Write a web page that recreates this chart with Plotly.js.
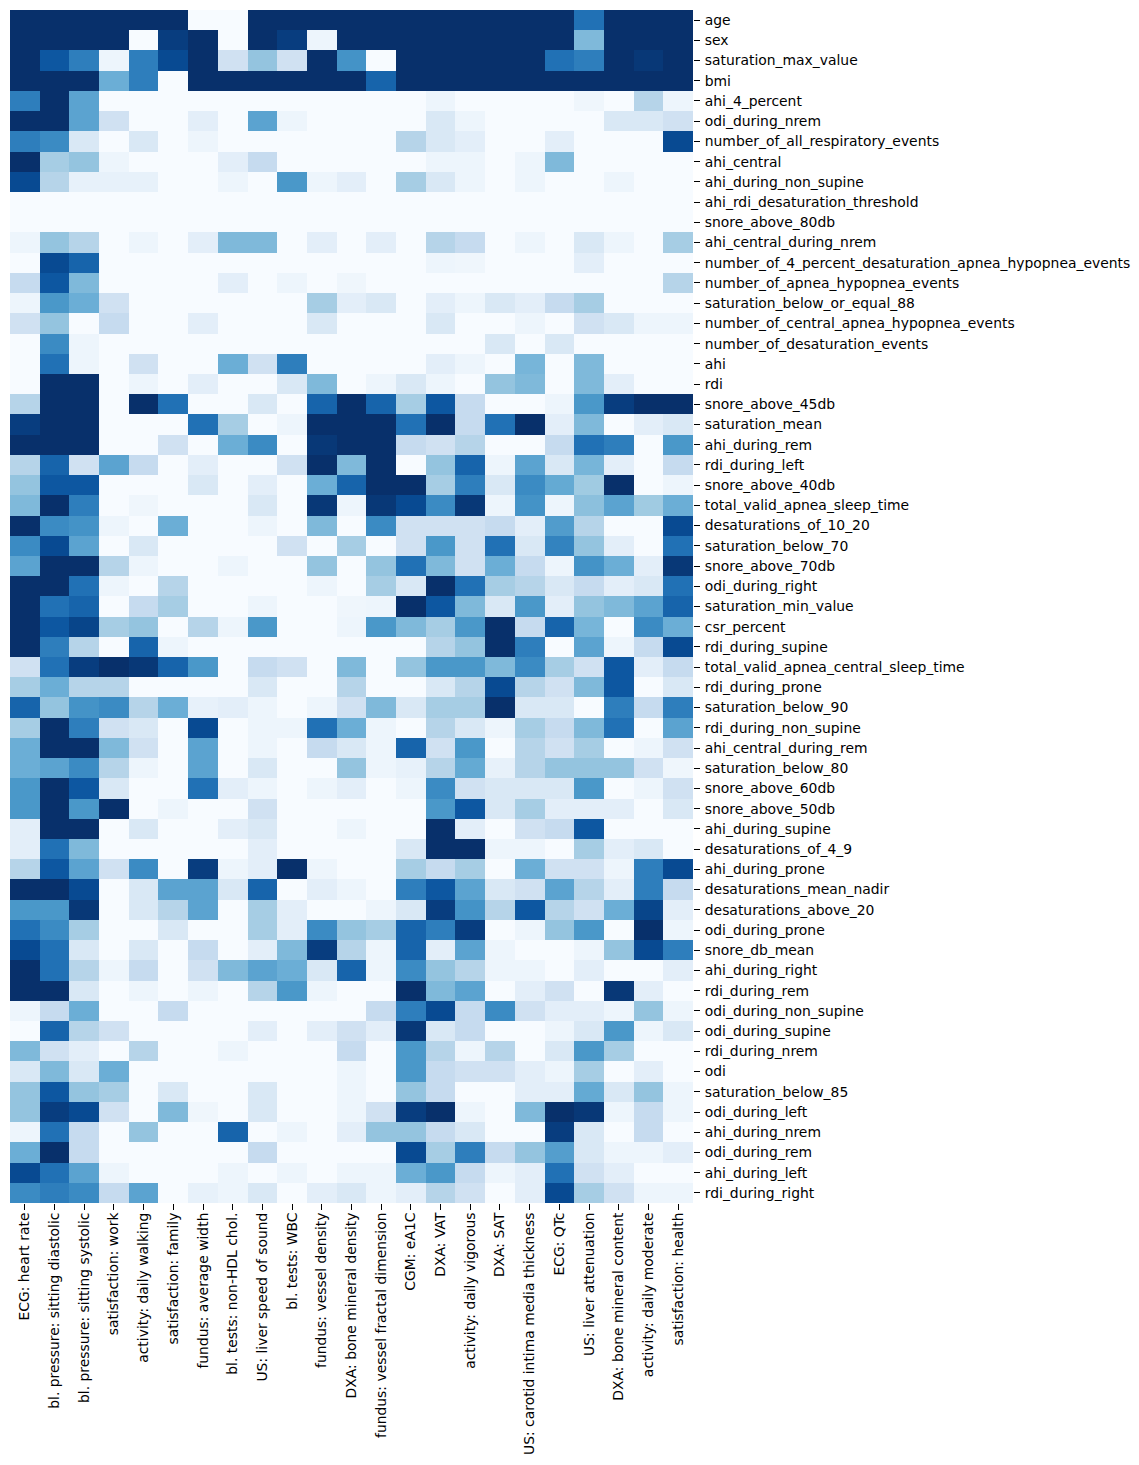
<!DOCTYPE html>
<html><head><meta charset="utf-8">
<script src="https://cdn.plot.ly/plotly-3.0.1.min.js"></script>
<style>html,body{margin:0;padding:0;background:#fff}</style></head>
<body><div id="chart" style="width:1139px;height:1465px"></div>
<script>
const columns=["ECG: heart rate","bl. pressure: sitting diastolic","bl. pressure: sitting systolic","satisfaction: work","activity: daily walking","satisfaction: family","fundus: average width","bl. tests: non-HDL chol.","US: liver speed of sound","bl. tests: WBC","fundus: vessel density","DXA: bone mineral density","fundus: vessel fractal dimension","CGM: eA1C","DXA: VAT","activity: daily vigorous","DXA: SAT","US: carotid intima media thickness","ECG: QTc","US: liver attenuation","DXA: bone mineral content","activity: daily moderate","satisfaction: health"];
const rowNames=["age","sex","saturation_max_value","bmi","ahi_4_percent","odi_during_nrem","number_of_all_respiratory_events","ahi_central","ahi_during_non_supine","ahi_rdi_desaturation_threshold","snore_above_80db","ahi_central_during_nrem","number_of_4_percent_desaturation_apnea_hypopnea_events","number_of_apnea_hypopnea_events","saturation_below_or_equal_88","number_of_central_apnea_hypopnea_events","number_of_desaturation_events","ahi","rdi","snore_above_45db","saturation_mean","ahi_during_rem","rdi_during_left","snore_above_40db","total_valid_apnea_sleep_time","desaturations_of_10_20","saturation_below_70","snore_above_70db","odi_during_right","saturation_min_value","csr_percent","rdi_during_supine","total_valid_apnea_central_sleep_time","rdi_during_prone","saturation_below_90","rdi_during_non_supine","ahi_central_during_rem","saturation_below_80","snore_above_60db","snore_above_50db","ahi_during_supine","desaturations_of_4_9","ahi_during_prone","desaturations_mean_nadir","desaturations_above_20","odi_during_prone","snore_db_mean","ahi_during_right","rdi_during_rem","odi_during_non_supine","odi_during_supine","rdi_during_nrem","odi","saturation_below_85","odi_during_left","ahi_during_nrem","odi_during_rem","ahi_during_left","rdi_during_right"];
const r01=[100,100,100,100,100,100,0,0,100,100,100,100,100,100,100,100,100,100,100,75,100,100,100];
const r02=[100,100,100,100,0,95,100,0,100,95,5,100,100,100,100,100,100,100,100,45,100,100,100];
const r03=[100,85,70,5,70,90,100,20,40,20,100,62,0,100,100,100,100,100,75,70,100,97,100];
const r04=[100,100,100,50,70,0,100,100,100,100,100,100,80,100,100,100,100,100,100,100,100,100,100];
const r05=[70,100,55,0,0,0,0,0,0,0,0,0,0,0,5,0,0,0,0,4,0,30,5];
const r06=[100,100,55,20,0,0,10,0,55,5,0,0,0,0,15,5,0,0,0,0,15,15,20];
const r07=[70,65,15,0,15,0,5,0,0,0,0,0,0,30,15,10,0,0,10,0,0,0,90];
const r08=[100,35,40,5,0,0,0,10,25,0,0,0,0,0,5,5,0,5,45,0,0,0,0];
const r09=[90,30,8,8,8,0,0,5,0,60,5,10,0,35,15,5,0,5,0,0,5,0,0];
const r10=[0,0,0,0,0,0,0,0,0,0,0,0,0,0,0,0,0,0,0,0,0,0,0];
const r11=[0,0,0,0,0,0,0,0,0,0,0,0,0,0,0,0,0,0,0,0,0,0,0];
const r12=[5,40,30,0,5,0,10,45,45,0,10,0,10,0,30,25,0,5,0,15,5,0,35];
const r13=[0,90,80,0,0,0,0,0,0,0,0,0,0,0,5,4,0,0,0,10,0,0,0];
const r14=[25,85,45,0,0,0,0,10,0,5,0,4,0,0,0,0,0,0,0,0,0,0,30];
const r15=[5,60,50,20,0,0,0,0,0,0,35,10,15,0,10,5,15,10,25,35,0,0,0];
const r16=[20,40,0,25,0,0,10,0,0,0,15,0,0,0,15,0,0,5,0,20,15,5,5];
const r17=[0,65,5,0,0,0,0,0,0,0,0,0,0,0,0,0,15,0,15,0,0,0,0];
const r18=[0,75,5,0,20,0,0,50,20,70,0,0,0,0,10,5,0,47,0,45,0,0,0];
const r19=[0,100,100,0,5,0,10,0,0,15,45,0,5,15,5,0,40,45,0,45,10,0,0];
const r20=[30,100,100,0,100,75,0,0,15,0,80,100,80,35,85,25,0,0,5,60,95,100,100];
const r21=[95,100,100,0,0,0,75,35,0,5,100,100,100,75,100,25,75,100,10,45,0,10,15];
const r22=[100,100,100,0,0,20,0,50,65,0,97,100,100,25,20,30,0,0,25,75,70,0,60];
const r23=[30,80,20,55,25,0,10,0,0,20,100,45,100,0,40,80,5,55,15,47,10,0,25];
const r24=[40,85,85,0,0,0,15,0,10,0,50,80,100,100,35,70,15,65,52,37,100,0,5];
const r25=[45,100,70,0,4,0,0,0,15,0,97,5,97,90,65,97,5,62,5,42,55,37,50];
const r26=[100,65,62,5,0,50,0,0,5,0,45,0,65,20,20,20,25,10,58,30,0,0,90];
const r27=[65,90,55,0,15,0,0,0,0,20,0,35,0,20,60,20,75,15,68,40,10,0,75];
const r28=[55,100,100,30,5,0,0,5,0,0,40,0,40,75,45,20,50,25,5,62,50,10,97];
const r29=[100,100,75,5,0,30,0,0,0,0,5,0,35,15,100,75,35,30,15,25,10,15,75];
const r30=[100,75,80,0,25,35,0,0,5,0,0,4,5,100,85,45,15,60,10,40,45,55,80];
const r31=[100,85,92,35,40,0,30,5,60,0,0,5,60,45,35,60,100,25,80,47,0,65,50];
const r32=[100,70,30,0,80,5,0,0,0,0,0,0,0,0,30,40,100,70,0,55,5,25,90];
const r33=[20,75,95,100,97,80,60,0,25,20,0,45,0,40,60,60,45,65,35,20,85,10,25];
const r34=[35,50,30,30,0,0,0,0,15,0,0,30,0,0,15,30,90,30,20,45,85,0,15];
const r35=[80,40,62,65,30,50,8,10,5,0,5,20,45,15,35,35,100,15,15,0,70,25,70];
const r36=[35,100,70,20,15,0,90,0,5,5,75,50,5,0,30,15,5,35,25,45,75,0,55];
const r37=[50,100,100,45,20,0,55,0,5,0,25,15,5,80,20,60,0,30,20,35,0,5,20];
const r38=[50,55,65,30,5,0,55,0,15,0,0,40,5,8,30,52,8,30,40,40,40,20,4];
const r39=[60,100,85,15,0,0,75,10,5,0,5,10,0,5,65,20,15,15,15,60,0,5,20];
const r40=[60,100,60,100,0,5,0,0,20,0,0,0,0,0,60,85,15,35,10,10,10,0,15];
const r41=[10,100,100,0,15,0,0,10,15,0,0,5,0,0,100,10,0,20,25,85,0,0,0];
const r42=[10,75,45,0,0,0,0,0,10,0,0,0,0,15,100,100,5,5,0,35,10,15,0];
const r43=[30,85,55,20,65,0,95,5,10,100,5,0,0,35,25,35,0,50,20,20,5,70,90];
const r44=[100,100,90,0,15,55,55,15,80,0,10,5,0,70,85,55,15,20,55,30,10,70,25];
const r45=[60,60,97,0,15,30,55,0,35,10,0,0,5,15,95,62,30,85,30,20,50,92,10];
const r46=[75,65,35,0,0,15,0,0,35,10,65,40,35,80,70,95,0,5,40,60,0,100,5];
const r47=[90,75,15,0,15,0,25,0,10,45,95,30,5,80,10,55,5,0,0,5,40,90,70];
const r48=[100,75,30,5,25,0,20,45,55,50,15,80,5,65,40,30,5,5,0,10,0,0,10];
const r49=[100,100,15,0,5,0,5,0,30,60,5,0,0,100,45,55,0,10,20,0,97,10,0];
const r50=[5,25,50,0,0,25,0,0,0,0,0,0,25,70,90,25,65,20,10,10,5,40,5];
const r51=[0,80,30,20,0,0,0,0,10,0,10,20,10,97,15,25,0,0,5,15,60,5,15];
const r52=[45,20,10,0,30,0,0,5,0,0,0,25,0,60,30,5,30,0,15,60,35,0,0];
const r53=[15,45,15,50,0,0,0,0,0,0,0,5,0,60,25,20,20,10,5,35,0,10,0];
const r54=[40,85,40,35,0,15,0,0,15,0,0,5,0,40,25,0,0,10,10,52,15,40,5];
const r55=[40,95,90,20,0,45,4,0,15,0,0,5,20,95,100,5,0,45,100,97,5,25,5];
const r56=[5,75,25,0,40,0,0,80,0,5,0,10,40,40,25,15,0,0,95,15,0,25,0];
const r57=[50,100,25,0,0,0,0,0,25,0,0,0,0,90,35,70,25,40,57,15,5,5,10];
const r58=[90,75,55,5,0,0,0,5,0,5,0,5,5,50,60,25,5,10,75,20,10,0,0];
const r59=[65,70,65,25,55,0,8,5,15,0,10,15,5,10,30,20,0,10,90,35,20,5,5];
const values=[r01,r02,r03,r04,r05,r06,r07,r08,r09,r10,r11,r12,r13,r14,r15,r16,r17,r18,r19,r20,r21,r22,r23,r24,r25,r26,r27,r28,r29,r30,r31,r32,r33,r34,r35,r36,r37,r38,r39,r40,r41,r42,r43,r44,r45,r46,r47,r48,r49,r50,r51,r52,r53,r54,r55,r56,r57,r58,r59];
const blues=[[0,"#f7fbff"],[0.125,"#deebf7"],[0.25,"#c6dbef"],[0.375,"#9ecae1"],[0.5,"#6baed6"],[0.625,"#4292c6"],[0.75,"#2171b5"],[0.875,"#08519c"],[1,"#08306b"]];
const font={family:"DejaVu Sans",size:13.9,color:"#000"};
Plotly.newPlot("chart",[{type:"heatmap",z:values,x:columns,y:rowNames,colorscale:blues,zmin:0,zmax:100,showscale:false,hoverongaps:false}],{
  width:1139,height:1465,paper_bgcolor:"#fff",plot_bgcolor:"#fff",showlegend:false,
  margin:{l:10,r:446,t:10,b:262,pad:0},
  xaxis:{type:"category",tickmode:"array",tickvals:columns,ticktext:columns,tickangle:-90,ticks:"outside",ticklen:6,tickwidth:1,tickcolor:"#000",ticklabelstandoff:-3,tickfont:font,showgrid:false,zeroline:false,showline:false,automargin:false},
  yaxis:{type:"category",side:"right",autorange:"reversed",tickmode:"array",tickvals:rowNames,ticktext:rowNames,ticks:"outside",ticklen:6,tickwidth:1,tickcolor:"#000",ticklabelstandoff:2,tickfont:font,showgrid:false,zeroline:false,showline:false,automargin:false}
},{displayModeBar:false,responsive:false});
</script></body></html>
